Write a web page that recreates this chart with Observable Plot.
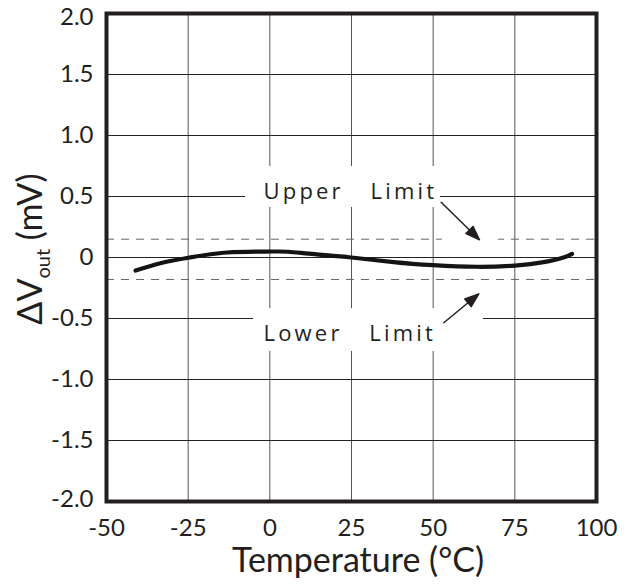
<!DOCTYPE html>
<html><head><meta charset="utf-8">
<script src="https://cdn.jsdelivr.net/npm/d3@7"></script>
<script src="https://cdn.jsdelivr.net/npm/@observablehq/plot@0.6"></script>
<style>body{margin:0;background:#fff} svg{display:block}</style>
</head><body><div id="chart"></div>
<script>
// ---- data ----
const temperature = [-41.1, -33.5, -24.5, -13.1, 0, 5.6, 13.7, 25, 37.9, 50, 63.4, 75, 83.8, 89.9, 92.5];
const deltaVout   = [-0.107, -0.047, 0.0, 0.041, 0.049, 0.047, 0.027, 0.0, -0.038, -0.063, -0.076, -0.066, -0.038, 0.0, 0.03];
const limitValues = [0.15, -0.18];
const xTicks = [-50, -25, 0, 25, 50, 75, 100];
const yTicksMid = [-1.5, -1, -0.5, 0, 0.5, 1, 1.5];
const yTickTop = [2], yTickBottom = [-2];
const xGrid = [-25, 0, 25, 50, 75];
const yGrid = [-1.5, -1, -0.5, 0, 0.5, 1, 1.5];
const labelText = ["Upper\u00a0\u00a0\u00a0Limit", "Lower\u00a0\u00a0\u00a0Limit"];
const labelX = [-1.94, -1.94];
const labelY = [0.541, -0.629];
// white boxes behind the labels, and the gap in the upper dashed line at the arrow tip
const boxX1 = [-7.45, -5.0, 52.8], boxX2 = [52.24, 65.4, 70.0];
const boxY1 = [0.41, -0.42, 0.13], boxY2 = [0.746, -0.77, 0.17];
const arrowFromX = [52.45, 53.25], arrowFromY = [0.453, -0.535];
const arrowToX = [64.18, 63.97], arrowToY = [0.145, -0.298];

// ---- layout ----
const W = 642, H = 584, mL = 106, mR = 46, mT = 13, mB = 83;
const xDom = [-50, 100], yDom = [-2, 2];
const kx = (W - mL - mR) / (xDom[1] - xDom[0]);
const ky = (H - mT - mB) / (yDom[1] - yDom[0]);

const curve = temperature.map((t, i) => ({t, v: deltaVout[i]}));
const boxes = boxX1.map((d, i) => ({x1: boxX1[i], x2: boxX2[i], y1: boxY1[i], y2: boxY2[i]}));
const labels = labelText.map((s, i) => ({s, x: labelX[i], y: labelY[i]}));
const arrows = arrowFromX.map((d, i) => {
  const dxp = (arrowToX[i] - arrowFromX[i]) * kx;
  const dyp = -(arrowToY[i] - arrowFromY[i]) * ky;
  return {x: arrowFromX[i], y: arrowFromY[i], len: Math.hypot(dxp, dyp),
          rot: Math.atan2(dxp, -dyp) * 180 / Math.PI};
});
const headLen = 14, headHalf = 5;
const arrowShape = {
  draw(context, l) {
    context.moveTo(0, 0);
    context.lineTo(0, -l + headLen * 0.8);
    context.moveTo(0, -l);
    context.lineTo(-headHalf, -l + headLen);
    context.lineTo(headHalf, -l + headLen);
    context.closePath();
  }
};

const ink = "#231f20";
const fmtY = d => d === 0 ? "0" : d.toFixed(1);
const yAxisOpts = {tickSize: 0, tickPadding: 13, tickFormat: fmtY, label: null, fill: ink};
const svg = Plot.plot({
  width: W, height: H,
  marginLeft: mL, marginRight: mR, marginTop: mT, marginBottom: mB,
  style: {fontFamily: "Lato", fontSize: "24px", color: ink, background: "#fff"},
  x: {domain: xDom, label: null},
  y: {domain: yDom, label: null},
  length: {type: "identity"},
  marks: [
    Plot.ruleX(xGrid, {stroke: "#555", strokeWidth: 1}),
    Plot.ruleY(yGrid, {stroke: "#222", strokeWidth: 1}),
    Plot.ruleY(limitValues, {stroke: "#666", strokeWidth: 1, strokeDasharray: "8,7"}),
    Plot.rect(boxes, {x1: "x1", x2: "x2", y1: "y1", y2: "y2", fill: "#fff"}),
    Plot.line(curve, {x: "t", y: "v", curve: "natural", stroke: "#141414", strokeWidth: 4.2}),
    Plot.text(labels, {x: "x", y: "y", text: "s", textAnchor: "start", fontSize: 22,
      fontFamily: "Open Sans", fill: ink}),
    Plot.vector(arrows, {x: "x", y: "y", length: "len", rotate: "rot", anchor: "start",
      shape: arrowShape, stroke: ink, fill: ink, strokeWidth: 1.5}),
    Plot.frame({stroke: ink, strokeWidth: 4}),
    Plot.axisX({ticks: xTicks, tickSize: 0, tickPadding: 17, tickFormat: d => String(d), label: null, fill: ink}),
    Plot.axisY({ticks: yTicksMid, ...yAxisOpts}),
    Plot.axisY({ticks: yTickTop, ...yAxisOpts, dy: 4}),
    Plot.axisY({ticks: yTickBottom, ...yAxisOpts, dy: -2})
  ]
});

const s = d3.select(svg);
s.selectAll("text")
  .filter(function() { return this.textContent.includes("Limit"); })
  .style("letter-spacing", "3.2px");

// x-axis title
s.append("text")
  .attr("x", mL + (W - mL - mR) / 2 + 7).attr("y", H - 12.3)
  .attr("text-anchor", "middle").attr("font-family", "Lato").attr("font-size", 34)
  .attr("fill", ink).text("Temperature (°C)");

// y-axis title with subscript
const yt = s.append("text")
  .attr("transform", `translate(42,${mT + (H - mT - mB) / 2 - 8}) rotate(-90)`)
  .attr("text-anchor", "middle").attr("font-family", "Lato").attr("font-size", 34)
  .attr("fill", ink);
yt.append("tspan").text("ΔV");
yt.append("tspan").attr("font-size", 20).attr("dy", 8).text("out");
yt.append("tspan").attr("dy", -8).text("\u00a0(mV)");

document.getElementById("chart").appendChild(svg);
</script>
</body></html>
